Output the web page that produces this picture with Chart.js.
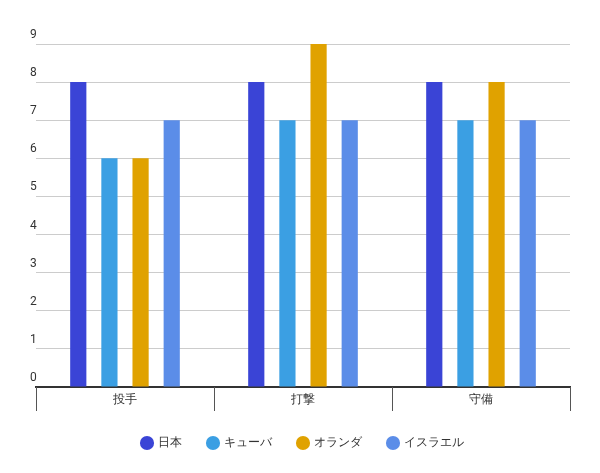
<!DOCTYPE html>
<html><head><meta charset="utf-8">
<script src="https://cdn.jsdelivr.net/npm/chart.js@4"></script>
<style>body{margin:0;background:#fff}#w{width:600px;height:473px}</style>
</head><body><div id="w"><canvas id="c"></canvas></div>
<script>
const categories=["投手","打撃","守備"];
const seriesNames=["日本","キューバ","オランダ","イスラエル"];
const japan=[8,8,8];
const cuba=[6,7,7];
const netherlands=[6,9,8];
const israel=[7,7,7];
const yTicks=[0,1,2,3,4,5,6,7,8,9];
const colors=["#3a44d6","#3b9fe3","#e0a200","#5b8de8"];
const vals=[japan,cuba,netherlands,israel];
Chart.defaults.font.family="Roboto";
Chart.defaults.font.size=12;
Chart.defaults.color="#333";
const sep={id:'sep',afterDraw(ch){const x=ch.scales.x,ctx=ch.ctx;const w=(x.right-x.left)/categories.length;ctx.save();ctx.strokeStyle='#555';ctx.lineWidth=1;for(let i=0;i<=categories.length;i++){const px=Math.round(x.left+i*w)+0.5;ctx.beginPath();ctx.moveTo(px,x.top);ctx.lineTo(px,x.top+24);ctx.stroke();}ctx.restore();}};
new Chart(document.getElementById('c'),{
type:'bar',
data:{labels:categories,datasets:seriesNames.map((n,i)=>({label:n,data:vals[i],backgroundColor:colors[i],categoryPercentage:0.7,barPercentage:0.52}))},
options:{responsive:true,maintainAspectRatio:false,animation:false,
layout:{padding:{left:36,right:30,top:44,bottom:14}},
scales:{
y:{min:0,max:9,afterBuildTicks:s=>{s.ticks=yTicks.map(v=>({value:v}));},
ticks:{mirror:true,labelOffset:-9,padding:-2,color:'#333'},
grid:{color:'#ccc',drawTicks:false},border:{display:false}},
x:{grid:{display:false,drawTicks:false},border:{color:'#333',width:2},
ticks:{padding:6,color:'#333'},afterFit:s=>{s.height=24;}}
},
plugins:{legend:{position:'bottom',labels:{usePointStyle:true,pointStyle:'circle',boxWidth:10,boxHeight:10,padding:26,color:'#333'}},tooltip:{enabled:false}}
}, plugins:[sep]});
</script></body></html>
